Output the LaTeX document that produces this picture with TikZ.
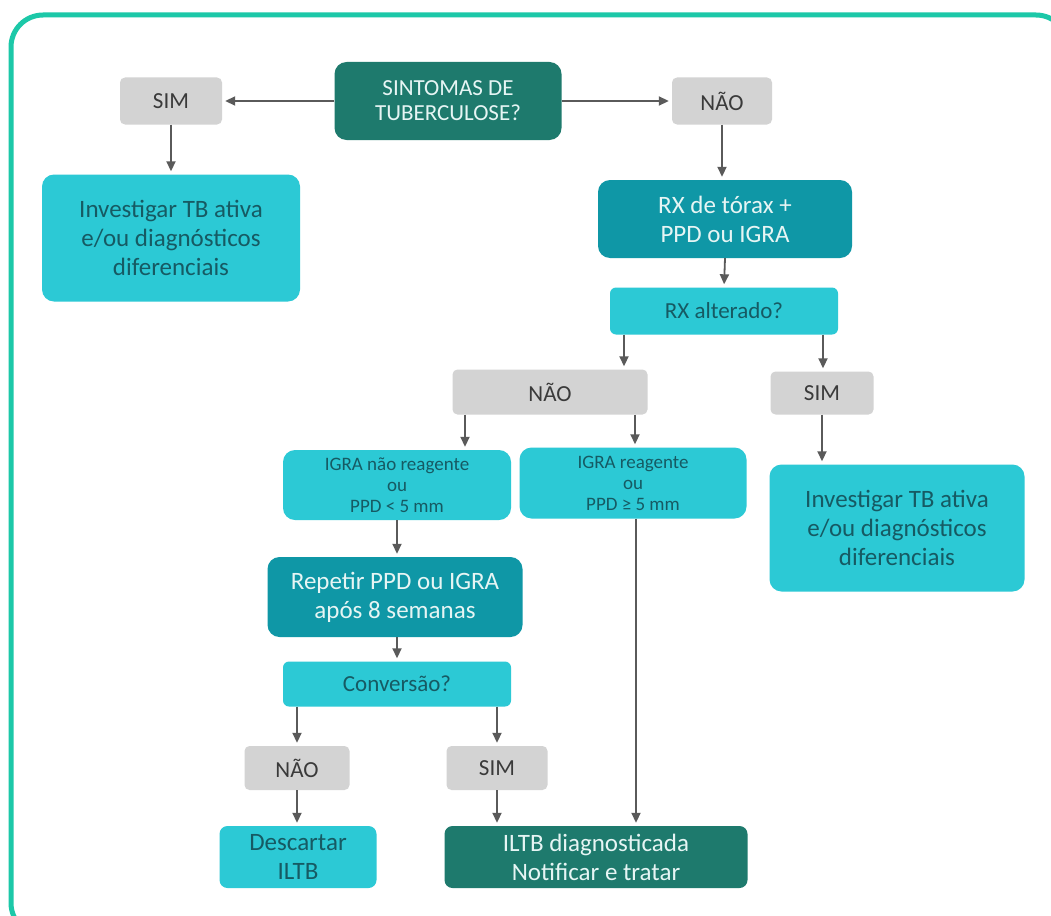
\documentclass[tikz,border=0pt]{standalone}
\usepackage{fontspec}
\setmainfont{Carlito}
\usetikzlibrary{calc,arrows.meta}
\definecolor{dteal}{HTML}{1E7A6D}
\definecolor{mteal}{HTML}{0F97A6}
\definecolor{lcyan}{HTML}{2CC9D5}
\definecolor{gbox}{HTML}{D3D3D3}
\definecolor{framec}{HTML}{1CC8A8}
\definecolor{arrowc}{HTML}{5A5A5A}
\definecolor{darktxt}{HTML}{165A63}
\definecolor{graytxt}{HTML}{3A3A3A}
\definecolor{lighttxt}{HTML}{E6F5F4}
\tikzset{
  box/.style={rounded corners=12pt, align=center, inner sep=0pt, anchor=center},
  darkbox/.style={box, fill=dteal, text=lighttxt},
  midbox/.style={box, fill=mteal, text=lighttxt},
  cyanbox/.style={box, fill=lcyan, text=darktxt},
  graybox/.style={box, fill=gbox, text=graytxt, rounded corners=5pt},
  arr/.style={draw=arrowc, line width=1.8pt, shorten >=3pt, -{Triangle[length=10pt,width=9pt]}},
  fbig/.style={font=\fontsize{25}{29}\selectfont},
  fmid/.style={font=\fontsize{23}{25}\selectfont},
  fsmall/.style={font=\fontsize{19}{21}\selectfont},
}
\begin{document}
\begin{tikzpicture}[x=1pt,y=-1pt]
\useasboundingbox (0,0) rectangle (1051,915);
\fill[white] (0,0) rectangle (1051,915);
\draw[framec, line width=5pt, rounded corners=32pt] (11,15) rectangle (1068,935);

\node[darkbox, fmid, minimum width=227, minimum height=78] (sint) at (448,101) {SINTOMAS DE\\TUBERCULOSE?};
\node[graybox, fmid, minimum width=102, minimum height=47] (sim1) at (171,101) {SIM};
\node[graybox, fmid, minimum width=100, minimum height=47] (nao1) at (722,101) {NÃO};
\node[cyanbox, fbig, minimum width=258, minimum height=127] (inv1) at (171,238) {Investigar TB ativa\\e/ou diagnósticos\\diferenciais};
\node[midbox, fbig, minimum width=254, minimum height=78] (rx) at (725,219) {RX de tórax +\\PPD ou IGRA};
\node[cyanbox, fmid, minimum width=228, minimum height=47, rounded corners=6pt] (rxalt) at (724,311) {RX alterado?};
\node[graybox, fmid, minimum width=195, minimum height=45] (nao2) at (550,392) {NÃO};
\node[graybox, fmid, minimum width=103, minimum height=43] (sim2) at (822,393) {SIM};
\node[cyanbox, fbig, minimum width=255, minimum height=127] (inv2) at (897,528) {Investigar TB ativa\\e/ou diagnósticos\\diferenciais};
\node[cyanbox, fsmall, minimum width=228, minimum height=70] (igran) at (397,485) {IGRA não reagente\\ou\\PPD < 5 mm};
\node[cyanbox, fsmall, minimum width=227, minimum height=71] (igrar) at (633,483) {IGRA reagente\\ou\\PPD ≥ 5 mm};
\node[midbox, fbig, minimum width=255, minimum height=80] (rep) at (395,597) {Repetir PPD ou IGRA\\após 8 semanas};
\node[cyanbox, fmid, minimum width=228, minimum height=45, rounded corners=6pt] (conv) at (397,684) {Conversão?};
\node[graybox, fmid, minimum width=105, minimum height=44] (nao3) at (297,768) {NÃO};
\node[graybox, fmid, minimum width=101, minimum height=44] (sim3) at (497,768) {SIM};
\node[cyanbox, fbig, minimum width=157, minimum height=62, rounded corners=8pt] (desc) at (298,857) {Descartar\\ILTB};
\node[darkbox, fbig, minimum width=303, minimum height=62, rounded corners=8pt] (iltb) at (596,857) {ILTB diagnosticada\\Notificar e tratar};

\draw[arr] (sint.west) -- (sim1.east);
\draw[arr] (sint.east) -- (nao1.west);
\draw[arr] (sim1.south) -- (inv1.north);
\draw[arr] (nao1.south) -- (nao1.south |- rx.north);
\draw[arr] (rx.south) -- (rxalt.north);
\draw[arr] ([xshift=-100pt]rxalt.south) -- ([xshift=-100pt]rxalt.south |- nao2.north);
\draw[arr] ([xshift=99pt]rxalt.south) -- ([xshift=99pt]rxalt.south |- sim2.north);
\draw[arr] (sim2.south) -- (sim2.south |- inv2.north);
\draw[arr] ([xshift=-85pt]nao2.south) -- ([xshift=-85pt]nao2.south |- igran.north);
\draw[arr] ([xshift=85pt]nao2.south) -- ([xshift=85pt]nao2.south |- igrar.north);
\draw[arr] (igran.south) -- (igran.south |- rep.north);
\draw[arr] (igran.south |- rep.south) -- (conv.north);
\draw[arr] ([xshift=-100pt]conv.south) -- ([xshift=-100pt]conv.south |- nao3.north);
\draw[arr] ([xshift=100pt]conv.south) -- ([xshift=100pt]conv.south |- sim3.north);
\draw[arr] (nao3.south) -- (nao3.south |- desc.north);
\draw[arr] (sim3.south) -- (sim3.south |- iltb.north);
\draw[arr] ([xshift=3pt]igrar.south) -- ([xshift=3pt]igrar.south |- iltb.north);
\end{tikzpicture}
\end{document}
